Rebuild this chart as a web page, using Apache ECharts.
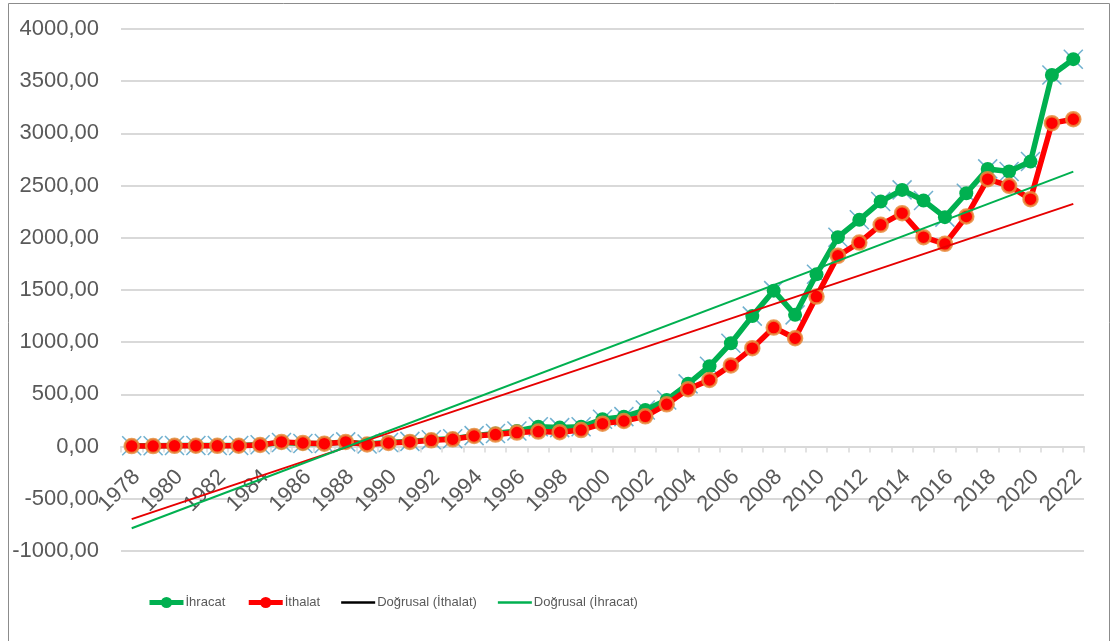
<!DOCTYPE html>
<html>
<head>
<meta charset="utf-8">
<script src="https://cdn.jsdelivr.net/npm/echarts@6/dist/echarts.min.js"></script>
<style>html,body{margin:0;padding:0;background:#fff;}#c{width:1113px;height:641px;}</style>
</head>
<body>
<div id="c"></div>
<script>
const years = ['1978','1979','1980','1981','1982','1983','1984','1985','1986','1987','1988','1989','1990','1991','1992','1993','1994','1995','1996','1997','1998','1999','2000','2001','2002','2003','2004','2005','2006','2007','2008','2009','2010','2011','2012','2013','2014','2015','2016','2017','2018','2019','2020','2021','2022'];
const ihracat = [8,8,10,10,10,10,18,40,30,30,45,25,40,50,65,75,105,125,150,190,182,190,262,287,350,447,601,770,990,1250,1494,1262,1650,2006,2172,2347,2459,2357,2198,2427,2660,2635,2730,3560,3711];
const ithalat = [5,5,7,8,7,8,15,45,35,28,45,20,35,45,60,70,102,115,134,144,138,158,220,245,290,405,550,639,778,943,1140,1038,1437,1827,1954,2124,2236,2006,1942,2204,2562,2498,2370,3098,3136];
// trend line end points (1978, 2022)
const trendIhracat = [-782, 2634];
const trendIthalat = [-695, 2325];
const yTicks = {min: -1000, max: 4000, interval: 500};

const chart = echarts.init(document.getElementById('c'));
const labelFont = "'Liberation Sans', Arial, sans-serif";
const legendFont = "'Liberation Sans', Arial, sans-serif";
const lineIcon = 'path://M0,0H33V2.2H0Z';
chart.setOption({
  animation: false,
  backgroundColor: '#fff',
  graphic: [{type:'rect', shape:{x:8.5, y:3.5, width:1101, height:645}, style:{fill:'none', stroke:'#8c8c8c', lineWidth:1}, silent:true, z:-1}],
  grid: {left:121, right:29, top:29, bottom:90, containLabel:false},
  legend: {
    left: 147, top: 596, padding: 0, itemWidth: 34, itemHeight: 14, itemGap: 21,
    textStyle: {fontFamily: legendFont, fontSize: 13, color:'#595959', padding:[0,0,0,-3]},
    data: [
      {name:'İhracat', lineStyle:{width:5, color:'#00b050'}, itemStyle:{color:'#00b050'}},
      {name:'İthalat', lineStyle:{width:5, color:'#ff0000'}, itemStyle:{color:'#ff0000', borderWidth:0}},
      {name:'Doğrusal (İthalat)', icon: lineIcon, itemStyle:{color:'#000'}},
      {name:'Doğrusal (İhracat)', icon: lineIcon, itemStyle:{color:'#00b050'}}
    ]
  },
  xAxis: {
    type:'category', data: years, boundaryGap: true,
    axisLine: {onZero:false, lineStyle:{color:'#d9d9d9', width:2}},
    axisTick: {show:true, interval:0, length:6, lineStyle:{color:'#d9d9d9', width:1.5}},
    axisLabel: {interval:1, rotate:45, margin:32, padding:[0,-7,0,0], fontSize:22, fontFamily:labelFont, color:'#595959'},
    splitLine: {show:false}
  },
  yAxis: {
    type:'value', min: yTicks.min, max: yTicks.max, interval: yTicks.interval,
    axisLine:{show:false}, axisTick:{show:false},
    axisLabel:{margin:22, fontSize:22, fontFamily:labelFont, color:'#595959',
      formatter: v => v.toFixed(2).replace('.', ',')},
    splitLine:{lineStyle:{color:'#d9d9d9', width:2}}
  },
  series: [
    {name:'İhracatX', type:'scatter', data: ihracat, symbol:'path://M0,0L10,10M10,0L0,10', symbolSize:19,
      itemStyle:{color:'rgba(0,0,0,0)', borderColor:'#4b9cc3', borderWidth:1.5}, z:1, silent:true},
    {name:'İhracat', type:'line', data: ihracat, symbol:'circle', symbolSize:14,
      lineStyle:{color:'#00b050', width:5.5}, itemStyle:{color:'#00b050'}, z:2},
    {name:'İthalat', type:'line', data: ithalat, symbol:'circle', symbolSize:14,
      lineStyle:{color:'#ff0000', width:5.5}, itemStyle:{color:'#ff0000', borderColor:'rgba(232,140,60,0.85)', borderWidth:2.5}, z:3},
    {name:'Doğrusal (İthalat)', type:'line', data: [[years[0], trendIthalat[0]], [years[years.length-1], trendIthalat[1]]],
      symbol:'none', lineStyle:{color:'#e60000', width:2}, itemStyle:{color:'#e60000'}, z:4},
    {name:'Doğrusal (İhracat)', type:'line', data: [[years[0], trendIhracat[0]], [years[years.length-1], trendIhracat[1]]],
      symbol:'none', lineStyle:{color:'#00b050', width:2}, itemStyle:{color:'#00b050'}, z:5}
  ]
});
// place the category axis on the zero line of the value axis
const yZero = chart.convertToPixel({yAxisIndex:0}, 0);
const yBottom = chart.convertToPixel({yAxisIndex:0}, yTicks.min);
chart.setOption({xAxis:{offset: yZero - yBottom}});
</script>
</body>
</html>
